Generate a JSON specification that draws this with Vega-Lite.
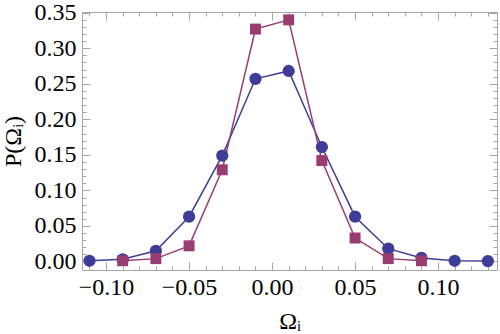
{
  "$schema": "https://vega.github.io/schema/vega-lite/v6.json",
  "width": 415,
  "height": 258,
  "autosize": {"type": "none"},
  "padding": {"left": 82, "top": 12, "right": 3, "bottom": 64},
  "background": "white",
  "config": {
    "view": {"stroke": null},
    "axis": {
      "labelFont": "Liberation Serif",
      "titleFont": "Liberation Serif",
      "labelFontSize": 24,
      "titleFontSize": 24,
      "titleFontWeight": "normal",
      "labelColor": "black",
      "titleColor": "black",
      "domainColor": "#a6a6a6",
      "tickColor": "#a6a6a6",
      "grid": false
    }
  },
  "data": {
    "values": [
      {"omega": -0.11, "p": 0.001, "series": "A"},
      {"omega": -0.09, "p": 0.003, "series": "A"},
      {"omega": -0.07, "p": 0.015, "series": "A"},
      {"omega": -0.05, "p": 0.063, "series": "A"},
      {"omega": -0.03, "p": 0.149, "series": "A"},
      {"omega": -0.01, "p": 0.257, "series": "A"},
      {"omega": 0.01, "p": 0.268, "series": "A"},
      {"omega": 0.03, "p": 0.161, "series": "A"},
      {"omega": 0.05, "p": 0.063, "series": "A"},
      {"omega": 0.07, "p": 0.018, "series": "A"},
      {"omega": 0.09, "p": 0.005, "series": "A"},
      {"omega": 0.11, "p": 0.001, "series": "A"},
      {"omega": 0.13, "p": 0.0005, "series": "A"},
      {"omega": -0.09, "p": 0.001, "series": "B"},
      {"omega": -0.07, "p": 0.004, "series": "B"},
      {"omega": -0.05, "p": 0.022, "series": "B"},
      {"omega": -0.03, "p": 0.129, "series": "B"},
      {"omega": -0.01, "p": 0.327, "series": "B"},
      {"omega": 0.01, "p": 0.340, "series": "B"},
      {"omega": 0.03, "p": 0.142, "series": "B"},
      {"omega": 0.05, "p": 0.033, "series": "B"},
      {"omega": 0.07, "p": 0.004, "series": "B"},
      {"omega": 0.09, "p": 0.001, "series": "B"}
    ]
  },
  "layer": [
    {
      "transform": [{"filter": "datum.series === 'A'"}],
      "mark": {"type": "line", "color": "#3d3d99", "strokeWidth": 1.5},
      "encoding": {
        "x": {"field": "omega", "type": "quantitative",
          "scale": {"domain": [-0.1145, 0.1355], "nice": false, "zero": false},
          "axis": {"orient": "bottom", "values": [-0.1, -0.05, 0, 0.05, 0.1], "format": ".2f", "title": "Ωᵢ", "tickSize": -8, "labelPadding": 13, "titlePadding": 10, "domain": true}},
        "y": {"field": "p", "type": "quantitative",
          "scale": {"domain": [-0.012, 0.351], "nice": false, "zero": false},
          "axis": {"orient": "left", "values": [0, 0.05, 0.1, 0.15, 0.2, 0.25, 0.3, 0.35], "format": ".2f", "title": "P(Ωᵢ)", "tickSize": -8, "labelPadding": 14, "titlePadding": 9, "domain": true}}
      }
    },
    {
      "transform": [{"filter": "datum.series === 'B'"}],
      "mark": {"type": "line", "color": "#993d71", "strokeWidth": 1.5},
      "encoding": {
        "x": {"field": "omega", "type": "quantitative",
          "axis": {"orient": "bottom", "values": [-0.11, -0.09, -0.08, -0.07, -0.06, -0.04, -0.03, -0.02, -0.01, 0.01, 0.02, 0.03, 0.04, 0.06, 0.07, 0.08, 0.09, 0.11, 0.12, 0.13], "labels": false, "title": null, "tickSize": -4, "domain": false}},
        "y": {"field": "p", "type": "quantitative",
          "axis": {"orient": "left", "values": [0.01, 0.02, 0.03, 0.04, 0.06, 0.07, 0.08, 0.09, 0.11, 0.12, 0.13, 0.14, 0.16, 0.17, 0.18, 0.19, 0.21, 0.22, 0.23, 0.24, 0.26, 0.27, 0.28, 0.29, 0.31, 0.32, 0.33, 0.34], "labels": false, "title": null, "tickSize": -4, "domain": false}}
      }
    },
    {
      "transform": [{"filter": "datum.series === 'A'"}],
      "mark": {"type": "point", "shape": "circle", "filled": true, "opacity": 1, "color": "#3d3d99", "size": 150},
      "encoding": {
        "x": {"field": "omega", "type": "quantitative",
          "axis": {"orient": "top", "values": [-0.1, -0.05, 0, 0.05, 0.1], "labels": false, "title": null, "tickSize": -8, "domain": true}},
        "y": {"field": "p", "type": "quantitative",
          "axis": {"orient": "right", "values": [0, 0.05, 0.1, 0.15, 0.2, 0.25, 0.3, 0.35], "labels": false, "title": null, "tickSize": -8, "domain": true}}
      }
    },
    {
      "transform": [{"filter": "datum.series === 'B'"}],
      "mark": {"type": "point", "shape": "square", "filled": true, "opacity": 1, "color": "#993d71", "size": 120},
      "encoding": {
        "x": {"field": "omega", "type": "quantitative",
          "axis": {"orient": "top", "values": [-0.11, -0.09, -0.08, -0.07, -0.06, -0.04, -0.03, -0.02, -0.01, 0.01, 0.02, 0.03, 0.04, 0.06, 0.07, 0.08, 0.09, 0.11, 0.12, 0.13], "labels": false, "title": null, "tickSize": -4, "domain": false}},
        "y": {"field": "p", "type": "quantitative",
          "axis": {"orient": "right", "values": [0.01, 0.02, 0.03, 0.04, 0.06, 0.07, 0.08, 0.09, 0.11, 0.12, 0.13, 0.14, 0.16, 0.17, 0.18, 0.19, 0.21, 0.22, 0.23, 0.24, 0.26, 0.27, 0.28, 0.29, 0.31, 0.32, 0.33, 0.34], "labels": false, "title": null, "tickSize": -4, "domain": false}}
      }
    }
  ],
  "resolve": {"axis": {"x": "independent", "y": "independent"}}
}
